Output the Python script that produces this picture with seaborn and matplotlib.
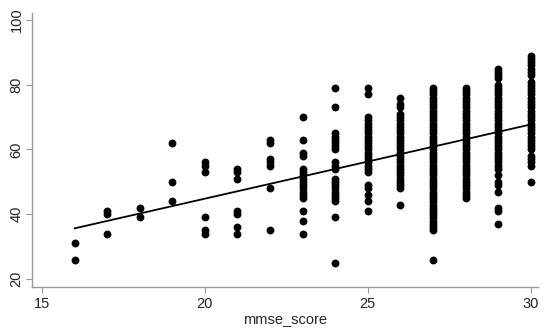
import numpy as np
import pandas as pd
import matplotlib
matplotlib.use('Agg')
import matplotlib.pyplot as plt
import seaborn as sns

y16 = [31, 26]
y17 = [41, 40, 34]
y18 = [42, 39]
y19 = [62, 50, 44]
y20 = [56, 55, 53, 39, 35, 34]
y21 = [54, 53, 51, 41, 40, 36, 34]
y22 = [63, 62, 57, 56, 55, 48, 35]
y23 = [70, 63, 59, 58, 54, 53, 52, 51, 50, 49, 48, 47, 46, 45, 41, 38, 34]
y24 = [79, 73, 65, 64, 63, 62, 61, 60, 56, 55, 54, 51, 50, 49, 48, 47, 46, 45, 44, 39, 25]
y25 = [79, 77, 70, 69, 68, 67, 66, 65, 64, 63, 62, 61, 60, 59, 58, 57, 56, 55, 54, 53,
       49, 48, 46, 44, 41]
y26 = [76, 74, 73, 71, 70, 69, 68, 67, 66, 65, 64, 63, 62, 61, 60, 59, 58, 57, 56, 55,
       54, 53, 52, 51, 50, 49, 48, 43]
y27 = [79, 78, 77, 76, 75, 74, 73, 72, 71, 70, 69, 68, 67, 66, 65, 64, 63, 62, 61, 60,
       59, 58, 57, 56, 55, 54, 53, 52, 51, 50, 49, 48, 47, 46, 45, 44, 43, 42, 41, 40,
       39, 38, 37, 36, 35, 26]
y28 = [79, 78, 77, 76, 75, 74, 73, 72, 71, 70, 69, 68, 67, 66, 65, 64, 63, 62, 61, 60,
       59, 58, 57, 56, 55, 54, 53, 52, 51, 50, 49, 48, 47, 46, 45]
y29 = [85, 84, 83, 82, 80, 79, 78, 77, 76, 75, 74, 73, 72, 71, 70, 69, 68, 67, 66, 65,
       64, 63, 62, 61, 60, 59, 58, 57, 56, 55, 54, 52, 50, 49, 47, 42, 41, 37]
y30 = [89, 88, 87, 86, 85, 84, 83, 81, 80, 79, 78, 77, 76, 75, 74, 73, 72, 71, 70, 69,
       68, 67, 66, 65, 64, 63, 62, 61, 60, 58, 57, 56, 55, 50]

columns = {16: y16, 17: y17, 18: y18, 19: y19, 20: y20, 21: y21, 22: y22, 23: y23,
           24: y24, 25: y25, 26: y26, 27: y27, 28: y28, 29: y29, 30: y30}
df = pd.DataFrame([(x, v) for x, ys in columns.items() for v in ys],
                  columns=['mmse_score', 'score'])

sns.set_style('white')
plt.rcParams['font.family'] = ['Liberation Sans', 'DejaVu Sans']

fig = plt.figure(figsize=(5.5, 3.32), dpi=100)
ax = fig.add_axes([0.058, 0.1355, 0.92, 0.8255])
sns.regplot(data=df, x='mmse_score', y='score', ci=None, ax=ax,
            scatter_kws={'s': 32, 'color': 'black', 'alpha': 1, 'linewidths': 0},
            line_kws={'color': 'black', 'lw': 1.3})

ax.set_xlim(14.69, 30.22)
ax.set_ylim(17.5, 102.2)
ax.set_xticks([15, 20, 25, 30])
ax.set_yticks([20, 40, 60, 80, 100])
ax.set_xlabel('mmse_score', fontsize=10.5, labelpad=2)
ax.set_ylabel('')
for lab in ax.get_yticklabels():
    lab.set_rotation(90)
    lab.set_va('center')
ax.tick_params(labelsize=10.5, length=4, width=0.8, color='#999999', colors='#222222',
               bottom=True, left=True, pad=3)
ax.tick_params(axis='y', pad=2)
sns.despine(ax=ax)
for s in ['left', 'bottom']:
    ax.spines[s].set_color('#999999')
    ax.spines[s].set_linewidth(1)

fig.savefig('out.png', dpi=100)
